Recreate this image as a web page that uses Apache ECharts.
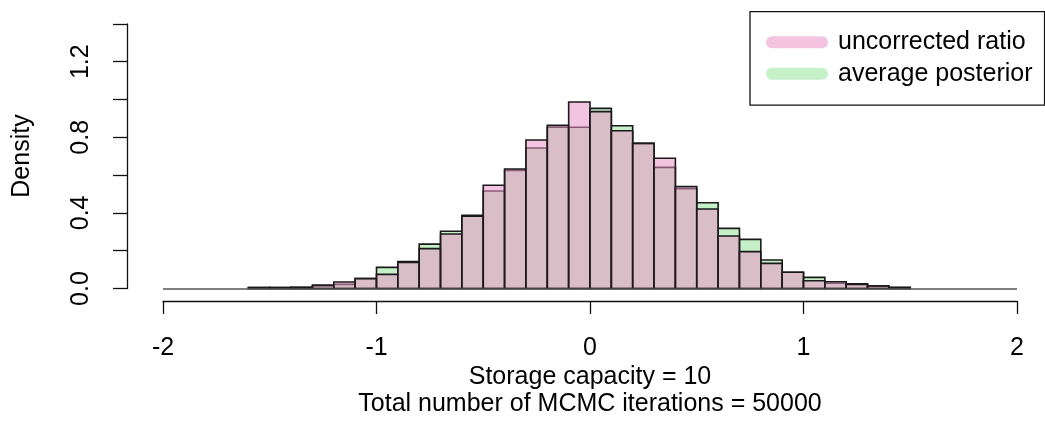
<!DOCTYPE html>
<html>
<head>
<meta charset="utf-8">
<script src="https://cdn.jsdelivr.net/npm/echarts@6/dist/echarts.min.js"></script>
<style>
html,body{margin:0;padding:0;background:#fff;}
#chart{width:1045px;height:421px;}
</style>
</head>
<body>
<div id="chart"></div>
<script>
// Histogram bins: left edges, width 0.1
const binStarts = [-1.6,-1.5,-1.4,-1.3,-1.2,-1.1,-1.0,-0.9,-0.8,-0.7,-0.6,-0.5,-0.4,-0.3,-0.2,-0.1,
                   0.0,0.1,0.2,0.3,0.4,0.5,0.6,0.7,0.8,0.9,1.0,1.1,1.2,1.3,1.4];
const binWidth = 0.1;
// Density values
const uncorrectedRatio = [0.005,0.005,0.006,0.018,0.034,0.052,0.075,0.138,0.211,0.288,0.382,0.546,0.632,0.786,0.863,0.987,
                          0.936,0.835,0.768,0.689,0.539,0.421,0.278,0.195,0.133,0.086,0.041,0.036,0.022,0.014,0.005];
const averagePosterior = [0.005,0.005,0.006,0.014,0.022,0.053,0.112,0.142,0.235,0.303,0.387,0.516,0.625,0.743,0.853,0.853,
                          0.953,0.861,0.768,0.641,0.528,0.454,0.318,0.260,0.151,0.086,0.059,0.028,0.025,0.012,0.006];
const xTicks = [-2, 2, 1];          // min, max, interval
const yTicks = [0, 1.4, 0.2];       // min, max, interval
const xTitle1 = 'Storage capacity = 10';
const xTitle2 = 'Total number of MCMC iterations = 50000';
const yTitle = 'Density';
const seriesNames = ['uncorrected ratio', 'average posterior'];

const FONT = '"Liberation Sans", Arial, sans-serif';
const pinkFill = 'rgba(233,148,199,0.55)';
const greenFill = 'rgb(197,240,200)';
const pinkLegend = '#f3c3df';
const greenLegend = '#c5f0c8';

function toData(vals){ return binStarts.map((s,i)=>[s, +(s+binWidth).toFixed(2), vals[i]]); }

function makeRender(fill){
  return function(params, api){
    const p0 = api.coord([api.value(0), api.value(2)]);
    const p1 = api.coord([api.value(1), 0]);
    return {
      type:'rect',
      shape:{x:p0[0], y:p0[1], width:p1[0]-p0[0], height:p1[1]-p0[1]},
      style:{fill:fill, stroke:'#1a1a1a', lineWidth:1.6}
    };
  };
}

const pill = 'path://M6,0 L56,0 A6,6 0 0 1 56,12 L6,12 A6,6 0 0 1 6,0 Z';

const chart = echarts.init(document.getElementById('chart'), null, {renderer:'canvas'});
chart.setOption({
  animation:false,
  backgroundColor:'#fff',
  textStyle:{fontFamily:FONT},
  grid:{left:163, right:28, top:23.9, bottom:132.5, containLabel:false},
  xAxis:{
    type:'value', min:xTicks[0], max:xTicks[1], interval:xTicks[2],
    offset:12.5,
    axisLine:{show:true, onZero:false, lineStyle:{color:'#111', width:1.3}},
    axisTick:{show:true, length:13, lineStyle:{color:'#111', width:1.3}},
    axisLabel:{show:true, fontSize:25, color:'#000', margin:35, fontFamily:FONT},
    splitLine:{show:false}
  },
  yAxis:{
    type:'value', min:yTicks[0], max:yTicks[1], interval:yTicks[2],
    offset:36,
    axisLine:{show:true, onZero:false, lineStyle:{color:'#111', width:1.3}},
    axisTick:{show:true, length:14, lineStyle:{color:'#111', width:1.3}},
    axisLabel:{show:true, fontSize:25, color:'#000', rotate:90, margin:33, fontFamily:FONT,
      formatter:function(v){ const k = Math.round(v/0.2); return (k%2===0) ? v.toFixed(1) : ''; }},
    splitLine:{show:false}
  },
  legend:{
    left:750, top:11.7, orient:'vertical',
    padding:[18,12,19,16],
    borderColor:'#111', borderWidth:1.3,
    itemWidth:62, itemHeight:12, itemGap:6.5,
    textStyle:{fontSize:25, color:'#000', fontFamily:FONT, padding:[0,0,0,5]},
    data:[
      {name:seriesNames[0], icon:pill, itemStyle:{color:pinkLegend, borderWidth:0}},
      {name:seriesNames[1], icon:pill, itemStyle:{color:greenLegend, borderWidth:0}}
    ]
  },
  graphic:[
    {type:'text', style:{text:xTitle1, x:590, y:377, textAlign:'center', textVerticalAlign:'middle', font:'25px '+FONT, fill:'#000'}},
    {type:'text', style:{text:xTitle2, x:590, y:404, textAlign:'center', textVerticalAlign:'middle', font:'25px '+FONT, fill:'#000'}},
    {type:'text', x:22, y:156, rotation:Math.PI/2, style:{text:yTitle, x:0, y:0, textAlign:'center', textVerticalAlign:'middle', font:'25px '+FONT, fill:'#000'}}
  ],
  series:[
    {
      name:seriesNames[1], type:'custom', renderItem:makeRender(greenFill),
      itemStyle:{color:greenLegend},
      encode:{x:[0,1], y:2},
      data:toData(averagePosterior),
      markLine:{silent:true, symbol:['none','none'], label:{show:false},
        lineStyle:{color:'#555', width:1.5, type:'solid'}, data:[{yAxis:0}]},
      z:2
    },
    {
      name:seriesNames[0], type:'custom', renderItem:makeRender(pinkFill),
      itemStyle:{color:pinkLegend},
      encode:{x:[0,1], y:2},
      data:toData(uncorrectedRatio),
      z:3
    }
  ]
});
</script>
</body>
</html>
